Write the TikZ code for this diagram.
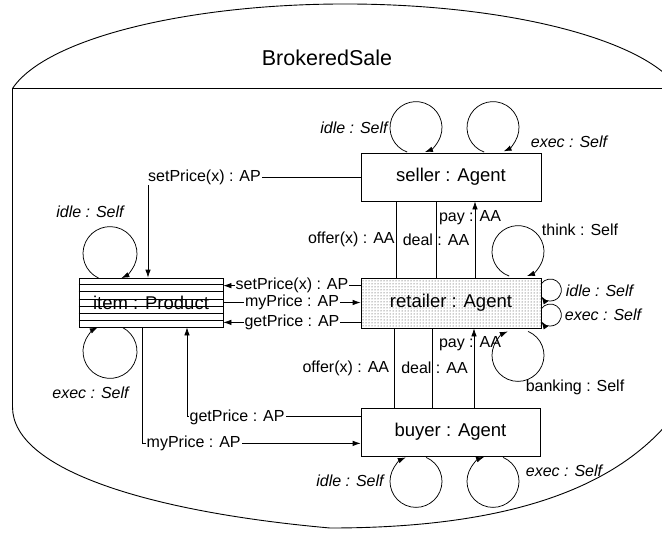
\documentclass[tikz,border=0pt]{standalone}
\usepackage{fontspec}
\setmainfont{Liberation Sans}
\usetikzlibrary{arrows.meta,calc,patterns}

\tikzset{
  wire/.style={line width=.75pt, draw=black},
  outline/.style={line width=.9pt, draw=black},
  arr/.style={wire, -{Latex[length=8pt,width=5.5pt]}},
  obj/.style={draw, line width=.75pt, inner sep=0pt, font=\fontsize{18.5}{22}\selectfont},
  lab/.style={inner sep=1pt, font=\fontsize{16}{19}\selectfont},
  labi/.style={inner sep=1pt, font=\fontsize{16}{19}\selectfont\itshape},
  cover/.style={lab, fill=white},
}
% self loop: centre, radius, start angle, end angle
\newcommand\agentloop[4]{\draw[arr] ($#1+(#3:#2)$) arc[start angle=#3, end angle=#4, radius=#2];}

\begin{document}
\begin{tikzpicture}[x=1pt,y=1pt]
\useasboundingbox (0,0) rectangle (662,-533);

% collaboration outline
\begin{scope}
  \clip (0,0) rectangle (662,-533);
  \draw[outline] (12.5,-88.5) arc[start angle=168.3, end angle=0, x radius=340, y radius=106];
  \draw[outline] (12.5,-88) -- (662,-88);
  \draw[outline] (12.5,-88) -- (12.5,-407)
    .. controls (12.5,-470) and (150,-512) .. (330,-528)
    .. controls (500,-528) and (630,-492) .. (688,-395);
\end{scope}

\node (title) at (327,-58) {\fontsize{21.5}{26}\selectfont BrokeredSale};

% objects
\node[obj, minimum width=144pt, minimum height=49pt] (item) at (151,-302.5) {item : Product};
\node[obj, minimum width=180pt, minimum height=48pt] (seller) at (451,-177) {seller : Agent};
\node[obj, minimum width=180pt, minimum height=50pt, pattern=dots, pattern color=black!85] (retailer) at (451,-303) {retailer : Agent};
\node[obj, minimum width=179pt, minimum height=48pt] (buyer) at (450.5,-432) {buyer : Agent};

% striped product box
\foreach \k in {1,...,6}
  \draw[line width=.75pt] ($(item.north west)!\k/7!(item.south west)$) -- ($(item.north east)!\k/7!(item.south east)$);

% product <-> retailer
\coordinate (r1) at ([yshift=-8pt]retailer.north west);
\coordinate (r3) at ([yshift=6pt]retailer.south west);
\draw[arr] (r1) -- node[cover]{setPrice(x) : AP} (r1 -| item.east);
\draw[arr] (item.east) -- node[cover]{myPrice : AP} (item.east -| retailer.west);
\draw[arr] (r3) -- node[cover]{getPrice : AP} (r3 -| item.east);

% seller -> product
\draw[arr] (seller.west) -| ([xshift=-3pt]item.north);
\node[cover, anchor=west] (lSet) at (147,-177) {setPrice(x) : AP};

% buyer <-> product
\coordinate (b1) at ([yshift=-9pt]buyer.north west);
\coordinate (i1) at ([xshift=36pt]item.south);
\draw[arr] (b1) -| (i1);
\node[cover, anchor=west] (lGet) at (188.5,-417) {getPrice : AP};
\coordinate (i2) at ([xshift=-9pt]item.south);
\coordinate (b2) at ([yshift=13pt]buyer.south west);
\draw[arr] (i2) |- (b2);
\node[cover, anchor=west] (lMy) at (145.5,-443) {myPrice : AP};

% seller <-> retailer
\coordinate (s1) at ([xshift=-55pt]seller.south);
\coordinate (s2) at ([xshift=-15pt]seller.south);
\coordinate (s3) at ([xshift=24pt]seller.south);
\draw[wire] (s1) -- node[lab, left]{offer(x) : AA} (s1 |- retailer.north);
\draw[wire] (s2) -- node[lab]{deal : AA} (s2 |- retailer.north);
\draw[arr] (s3 |- retailer.north) -- node[lab, pos=.79, xshift=-5pt]{pay : AA} (s3);

% buyer <-> retailer
\coordinate (u1) at ([xshift=-56pt]buyer.north);
\coordinate (u2) at ([xshift=-18pt]buyer.north);
\coordinate (u3) at ([xshift=23.5pt]buyer.north);
\draw[wire] (u1) -- node[lab, left, xshift=-4pt]{offer(x) : AA} (u1 |- retailer.south);
\draw[wire] (u2) -- node[lab, xshift=2pt]{deal : AA} (u2 |- retailer.south);
\draw[arr] (u3) -- node[lab, pos=.81, xshift=-4pt]{pay : AA} (u3 |- retailer.south);

% self loops
\agentloop{(item.north)+(-41,24)}{27}{245}{-65}
\agentloop{(item.south)+(-41,-24)}{27}{63}{-243}
\agentloop{(seller.north)+(-35,25)}{26}{250}{-70}
\agentloop{(seller.north)+(42,25)}{26}{250}{-66}
\agentloop{(retailer.north)+(67,26)}{26}{250}{-70}
\agentloop{(retailer.east)+(9,13)}{11}{145}{-145}
\agentloop{(retailer.east)+(9,-12)}{11}{145}{-145}
\agentloop{(retailer.south)+(67,-27)}{26}{67}{-247}
\agentloop{(buyer.south)+(-34.5,-25)}{26}{67}{-247}
\agentloop{(buyer.south)+(42.5,-25)}{26}{67}{-250}

% loop labels
\node[labi] (lItemIdle) at (90,-212) {idle : Self};
\node[labi] (lItemExec) at (90.5,-393) {exec : Self};
\node[labi] (lSellIdle) at (354,-128) {idle : Self};
\node[labi] (lSellExec) at (569,-142) {exec : Self};
\node[lab]  (lThink)    at (580,-230) {think : Self};
\node[labi] (lRetIdle)  at (599.5,-291) {idle : Self};
\node[labi] (lRetExec)  at (603,-315) {exec : Self};
\node[lab]  (lBank)     at (575,-387) {banking : Self};
\node[labi] (lBuyIdle)  at (350,-481) {idle : Self};
\node[labi] (lBuyExec)  at (564,-471) {exec : Self};
\end{tikzpicture}
\end{document}
